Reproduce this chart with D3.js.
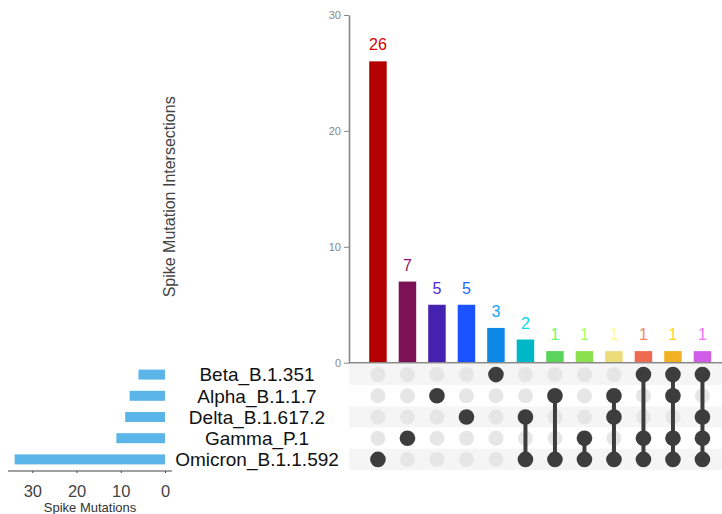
<!DOCTYPE html>
<html>
<head>
<meta charset="utf-8">
<script src="https://cdn.jsdelivr.net/npm/d3@7"></script>
<style>
  html, body { margin: 0; padding: 0; background: #fff; }
  svg { display: block; font-family: "Liberation Sans", Arial, sans-serif; }
</style>
</head>
<body>
<svg id="chart" width="722" height="514"></svg>
<script>
// ---- data ----
const sets = ["Beta_B.1.351", "Alpha_B.1.1.7", "Delta_B.1.617.2", "Gamma_P.1", "Omicron_B.1.1.592"];
const setSizes = [6, 8, 9, 11, 34];
const intersectionSets = [
  ["Omicron_B.1.1.592"],
  ["Gamma_P.1"],
  ["Alpha_B.1.1.7"],
  ["Delta_B.1.617.2"],
  ["Beta_B.1.351"],
  ["Delta_B.1.617.2", "Omicron_B.1.1.592"],
  ["Alpha_B.1.1.7", "Omicron_B.1.1.592"],
  ["Gamma_P.1", "Omicron_B.1.1.592"],
  ["Alpha_B.1.1.7", "Delta_B.1.617.2", "Omicron_B.1.1.592"],
  ["Beta_B.1.351", "Gamma_P.1", "Omicron_B.1.1.592"],
  ["Beta_B.1.351", "Alpha_B.1.1.7", "Gamma_P.1", "Omicron_B.1.1.592"],
  ["Beta_B.1.351", "Delta_B.1.617.2", "Gamma_P.1", "Omicron_B.1.1.592"]
];
const intersectionCounts = [26, 7, 5, 5, 3, 2, 1, 1, 1, 1, 1, 1];
const barColors = ["#b30000", "#7c1158", "#4421af", "#1a53ff", "#0d88e6", "#00b7c7",
                   "#5ad45a", "#8be04e", "#ebdc78", "#ee6a50", "#f0b222", "#d15ce8"];
const yTicks = [0, 10, 20, 30];
const setTicks = [0, 10, 20, 30];

// ---- layout ----
const svg = d3.select("#chart");
const W = 722;

const x = d3.scaleBand().domain(d3.range(intersectionCounts.length))
  .range([363.3, 717.1]).paddingInner(0.407).paddingOuter(0.2);
const y = d3.scaleLinear().domain([0, 30]).range([362.7, 15]);
const row = d3.scaleBand().domain(sets).range([364, 470]);
const xl = d3.scaleLinear().domain([0, 35.5]).range([165, 8]);

// matrix background stripes
svg.append("g").selectAll("rect").data(sets).join("rect")
  .attr("x", 349).attr("width", W - 349)
  .attr("y", d => row(d)).attr("height", row.bandwidth())
  .attr("fill", (d, i) => i % 2 === 0 ? "#f5f5f5" : "#ffffff");

// intersection bars
svg.append("g").selectAll("rect").data(intersectionCounts).join("rect")
  .attr("x", (d, i) => x(i)).attr("width", x.bandwidth())
  .attr("y", d => y(d)).attr("height", d => y(0) - y(d))
  .attr("fill", (d, i) => barColors[i]);

// bar labels
svg.append("g").selectAll("text").data(intersectionCounts).join("text")
  .attr("x", (d, i) => x(i) + x.bandwidth() / 2)
  .attr("y", d => y(d) - 11)
  .attr("text-anchor", "middle")
  .attr("font-size", 16)
  .attr("fill", (d, i) => d3.color(barColors[i]).brighter(0.5).formatHex())
  .text(d => d);

// top y axis
const yAxis = svg.append("g").attr("transform", "translate(349,0)")
  .call(d3.axisLeft(y).tickValues(yTicks).tickSize(5).tickSizeOuter(0).tickPadding(3));
yAxis.select(".domain").attr("stroke", "#888").attr("stroke-width", 1.6);
yAxis.selectAll(".tick line").attr("stroke", "#888");
yAxis.selectAll(".tick text").attr("fill", "#888").attr("font-size", 11)
  .attr("font-family", "'Liberation Sans', Arial, sans-serif");

// baseline
svg.append("line")
  .attr("x1", 349).attr("x2", W).attr("y1", y(0)).attr("y2", y(0))
  .attr("stroke", "#888").attr("stroke-width", 1.6);

// y axis title
svg.append("text")
  .attr("transform", `translate(175,${(y(0) + y(30)) / 2 + 8}) rotate(-90)`)
  .attr("text-anchor", "middle").attr("font-size", 16).attr("fill", "#444")
  .text("Spike Mutation Intersections");

// matrix dots
const cx = i => x(i) + x.bandwidth() / 2;
const cy = s => row(s) + row.bandwidth() / 2;
const matrix = svg.append("g");
intersectionSets.forEach((members, i) => {
  sets.forEach(s => {
    if (!members.includes(s)) {
      matrix.append("circle").attr("cx", cx(i)).attr("cy", cy(s)).attr("r", 7.5).attr("fill", "#e6e6e6");
    }
  });
  if (members.length > 1) {
    const ys = members.map(cy);
    matrix.append("line").attr("x1", cx(i)).attr("x2", cx(i))
      .attr("y1", d3.min(ys)).attr("y2", d3.max(ys))
      .attr("stroke", "#3d3d3d").attr("stroke-width", 4);
  }
  members.forEach(s => {
    matrix.append("circle").attr("cx", cx(i)).attr("cy", cy(s)).attr("r", 7.8).attr("fill", "#3d3d3d");
  });
});

// set labels
svg.append("g").selectAll("text").data(sets).join("text")
  .attr("x", 257).attr("y", d => cy(d)).attr("dy", "0.36em")
  .attr("text-anchor", "middle").attr("font-size", 19).attr("fill", "#111")
  .text(d => d);

// set size bars
svg.append("g").selectAll("rect").data(setSizes).join("rect")
  .attr("x", d => xl(d)).attr("width", d => xl(0) - xl(d))
  .attr("y", (d, i) => cy(sets[i]) - 5).attr("height", 10)
  .attr("fill", "#5bb5e8");

// set size axis
const lAxis = svg.append("g").attr("transform", "translate(0,471)")
  .call(d3.axisBottom(xl).tickValues(setTicks).tickSize(2).tickSizeOuter(0).tickPadding(12));
lAxis.select(".domain").attr("d", `M${xl.range()[1]},0H${xl(0) + 7}`)
  .attr("stroke", "#444").attr("stroke-width", 1.2);
lAxis.selectAll(".tick line").attr("stroke", "#444");
lAxis.selectAll(".tick text").attr("fill", "#444").attr("font-size", 16.5)
  .attr("font-family", "'Liberation Sans', Arial, sans-serif");

svg.append("text")
  .attr("x", 90).attr("y", 512).attr("text-anchor", "middle")
  .attr("font-size", 13).attr("fill", "#333")
  .text("Spike Mutations");
</script>
</body>
</html>
